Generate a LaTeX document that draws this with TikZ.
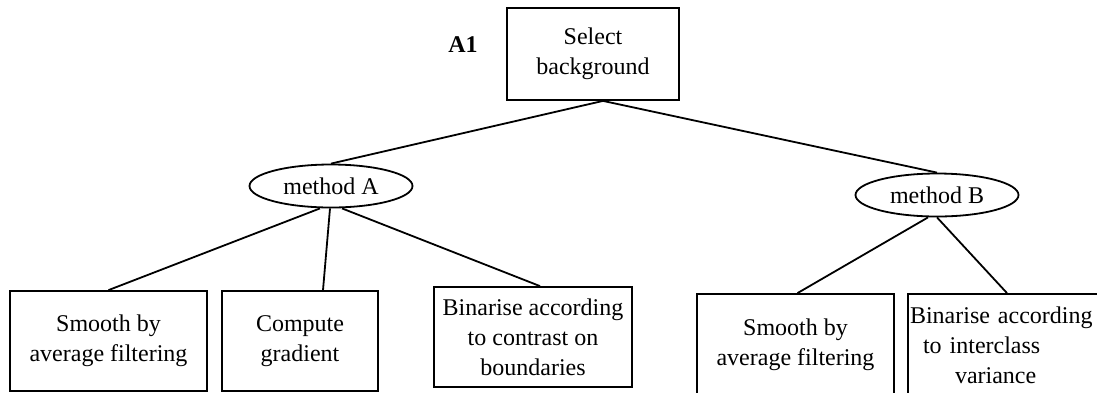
\documentclass[tikz,border=0pt]{standalone}
\usepackage{fontspec}
\setmainfont{Liberation Serif}
\usetikzlibrary{shapes.geometric}

\begin{document}
\begin{tikzpicture}[x=1pt, y=-1pt,
    line width=1.8pt,
    font=\fontsize{24}{30}\selectfont,
    taskbox/.style={draw, rectangle, align=center, inner sep=2pt},
    methodell/.style={draw, ellipse, inner sep=0pt, minimum width=163, minimum height=43}]
              \useasboundingbox (0,0) rectangle (1097,392);

              % Top task and its label
              \node[taskbox, minimum width=172, minimum height=92] (sel) at (593,54) {Select\\background};
              \node[font=\fontsize{24}{30}\selectfont\bfseries] (alab) at (463,45) {A1};

              % The two methods
              \node[methodell] (ma) at (331,186) {method A};
              \node[methodell] (mb) at (937,195) {method B};

              % Steps of method A
              \node[taskbox, minimum width=197, minimum height=100] (sa) at (108.5,341) {Smooth by\\average filtering};
              \node[taskbox, minimum width=156, minimum height=100] (ga) at (300,341) {Compute\\gradient};
              \node[taskbox, minimum width=198, minimum height=100] (ca) at (533,337) {Binarise according\\to contrast on\\boundaries};

              % Steps of method B
              \node[taskbox, minimum width=197, minimum height=102] (sb) at (795.5,345) {Smooth by\\average filtering};
              \node[taskbox, minimum width=202, minimum height=102, text width=198, align=left] (vb) at (1009,345)
                  {Binarise according\\\hspace*{13pt}to interclass\\\hspace*{45pt}variance};

              % Tree lines
              \draw ([xshift=10]sel.south) -- (ma.north);
              \draw ([xshift=10]sel.south) -- (mb.north);
              \draw ([xshift=-11]ma.south) -- (sa.north);
              \draw ([xshift=-1]ma.south) -- ([xshift=23]ga.north);
              \draw ([xshift=11]ma.south) -- ([xshift=7]ca.north);
              \draw ([xshift=-9]mb.south) -- ([xshift=2]sb.north);
              \draw (mb.south) -- ([xshift=-2]vb.north);
            \end{tikzpicture}
\end{document}
